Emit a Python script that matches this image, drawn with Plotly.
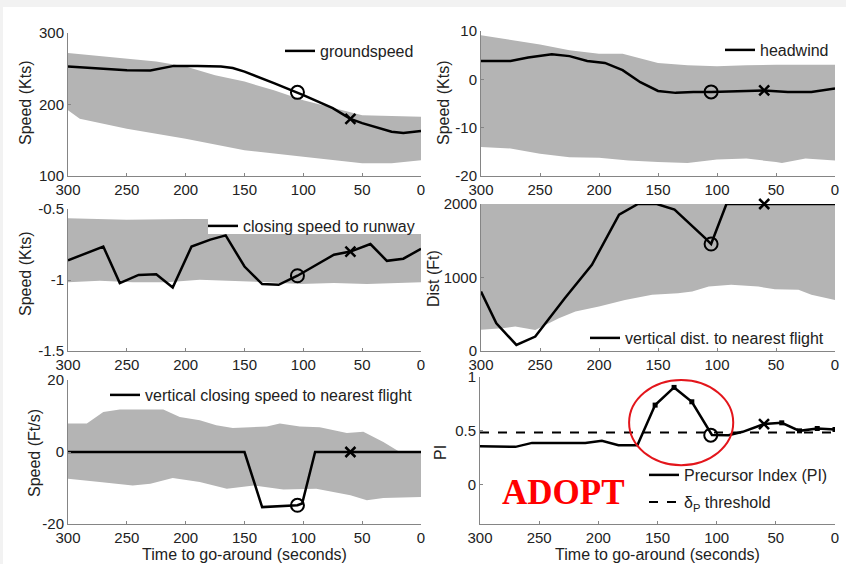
import plotly.graph_objects as go

W, H = 846, 564

# ---------------- data ----------------
time_ticks = [300, 250, 200, 150, 100, 50, 0]
time_tick_labels = ["300", "250", "200", "150", "100", "50", "0"]

event_t = 105      # circle marker time
cross_t = 60       # cross marker time

# Panel 1: groundspeed
gs_t = [300, 275, 250, 230, 210, 190, 170, 160, 150, 125, 105, 100, 75, 60, 50, 25, 15, 0]
gs_v = [253, 251, 248, 247.5, 254, 254, 253, 251, 246, 230, 217, 213, 195, 180, 174, 162, 160, 163]
gs_up_t = [300, 275, 250, 225, 200, 175, 150, 125, 100, 75, 50, 25, 0]
gs_up = [272, 268, 264, 260, 253, 241, 232, 220, 206, 196, 185, 184, 183]
gs_lo_t = [300, 290, 250, 200, 150, 100, 75, 50, 25, 0]
gs_lo = [192, 180, 166, 152, 136, 127, 122, 118, 118, 122]
gs_circle, gs_cross = 217, 180
gs_yticks = [100, 200, 300]
gs_ylabels = ["100", "200", "300"]

# Panel 2: headwind
hw_t = [300, 275, 260, 240, 225, 210, 195, 180, 165, 150, 135, 120, 105, 80, 60, 40, 20, 0]
hw_v = [3.8, 3.8, 4.5, 5.2, 4.8, 3.8, 3.4, 1.9, -0.6, -2.4, -2.8, -2.6, -2.6, -2.4, -2.3, -2.6, -2.6, -1.9]
hw_up_t = [300, 275, 250, 225, 200, 180, 165, 150, 125, 100, 75, 50, 0]
hw_up = [9.1, 8.1, 7.2, 6.0, 5.3, 5.3, 4.3, 3.4, 2.9, 2.7, 2.9, 3.0, 3.0]
hw_lo_t = [300, 275, 250, 225, 200, 175, 150, 125, 100, 75, 50, 45, 25, 0]
hw_lo = [-14.0, -14.3, -15.4, -16.1, -16.2, -16.8, -17.1, -17.3, -16.6, -16.4, -17.1, -17.3, -16.4, -16.8]
hw_circle, hw_cross = -2.6, -2.3
hw_yticks = [-20, -10, 0, 10]
hw_ylabels = ["-20", "-10", "0", "10"]

# Panel 3: closing speed to runway
cs_t = [300, 270, 256, 240, 225, 211, 195, 179, 166, 150, 135, 121, 105, 74, 60, 43, 29, 15, 0]
cs_v = [-0.862, -0.764, -1.022, -0.964, -0.959, -1.053, -0.764, -0.716, -0.686, -0.905, -1.029,
        -1.034, -0.97, -0.822, -0.80, -0.747, -0.865, -0.85, -0.78]
cs_up_t = [300, 250, 200, 150, 100, 50, 0]
cs_up = [-0.565, -0.575, -0.57, -0.57, -0.57, -0.57, -0.57]
cs_lo_t = [300, 273, 245, 216, 188, 160, 131, 103, 74, 46, 0]
cs_lo = [-1.015, -1.006, -1.015, -1.015, -0.999, -1.006, -1.015, -1.029, -1.022, -1.029, -1.015]
cs_circle, cs_cross = -0.97, -0.80
cs_yticks = [-1.5, -1, -0.5]
cs_ylabels = ["-1.5", "-1", "-0.5"]

# Panel 4: vertical distance to nearest flight
vd_t = [300, 287, 270, 254, 229, 206, 183, 167, 151, 136, 110, 105, 92, 0]
vd_v = [809, 377, 82, 196, 718, 1173, 1855, 2000, 2000, 1923, 1536, 1455, 2000, 2000]
vd_up_t = [300, 0]
vd_up = [2000, 2000]
vd_lo_t = [300, 282, 271, 254, 234, 220, 200, 178, 155, 133, 121, 107, 88, 65, 51, 31, 20, 0]
vd_lo = [290, 309, 332, 286, 445, 536, 605, 695, 764, 786, 809, 877, 900, 877, 841, 832, 764, 695]
vd_circle, vd_cross = 1455, 2000
vd_yticks = [0, 1000, 2000]
vd_ylabels = ["0", "1000", "2000"]

# Panel 5: vertical closing speed to nearest flight
vc_t = [300, 150, 135, 105, 101, 90, 0]
vc_v = [0, 0, -15.3, -14.8, -14.3, 0, 0]
vc_up_t = [300, 284, 270, 256, 219, 205, 188, 174, 160, 131, 120, 103, 86, 63, 49, 32, 18, 0]
vc_up = [7.9, 7.9, 11.1, 11.8, 11.8, 9.7, 8.8, 7.4, 6.7, 7.1, 7.9, 7.1, 6.9, 5.3, 5.6, 2.8, 0.0, 0.0]
vc_lo_t = [300, 273, 245, 230, 211, 188, 165, 142, 117, 89, 60, 46, 32, 0]
vc_lo = [-7.4, -8.3, -9.3, -8.8, -7.2, -8.3, -10.2, -9.3, -10.4, -10.2, -12.0, -13.4, -12.8, -12.5]
vc_circle, vc_cross = -14.8, 0
vc_yticks = [-20, 0, 20]
vc_ylabels = ["-20", "0", "20"]

# Panel 6: precursor index
pi_t = [300, 270, 256, 234, 211, 197, 183, 167, 152, 136, 121, 104, 90, 78, 60, 45, 30, 15, 0]
pi_v = [0.355, 0.349, 0.386, 0.386, 0.386, 0.405, 0.364, 0.364, 0.738, 0.903, 0.769, 0.46,
        0.458, 0.489, 0.561, 0.573, 0.498, 0.52, 0.511]
pi_marker_idx = [8, 9, 10, 15, 16, 17, 18]
pi_threshold = 0.483
pi_circle, pi_cross = 0.458, 0.561
pi_yticks = [0, 0.5, 1]
pi_ylabels = ["0", "0.5", "1"]

# ---------------- layout helpers ----------------
BAND = "#b4b4b4"
AXC = "#858585"
TXT = "#222222"
FONT = "Liberation Sans, Arial, sans-serif"
LW = 2.5

def xd(a, b):
    return [a / W, b / W]

def yd(top, bottom):
    return [1 - bottom / H, 1 - top / H]

panels = [
    # (xdomain px, ydomain px, yrange, yticks, ylabels, ytitle, title centre px)
    ((68, 421), (33, 176), [100, 300], gs_yticks, gs_ylabels, "Speed (Kts)", (25, 103)),
    ((481, 835), (31, 176), [-20, 10], hw_yticks, hw_ylabels, "Speed (Kts)", (443, 103)),
    ((68, 421), (209, 351), [-1.5, -0.5], cs_yticks, cs_ylabels, "Speed (Kts)", (25, 274)),
    ((481, 835), (204, 351), [0, 2000], vd_yticks, vd_ylabels, "Dist (Ft)", (433, 279)),
    ((68, 421), (380, 524), [-20, 20], vc_yticks, vc_ylabels, "Speed (Ft/s)", (34, 453)),
    ((480, 835), (377, 524), [-0.37, 1.0], pi_yticks, pi_ylabels, "PI", (440, 453)),
]

fig = go.Figure()
layout = {}
for i, (xpx, ypx, yr, yt, yl, ytitle, tpos) in enumerate(panels, start=1):
    sx = "" if i == 1 else str(i)
    xa = dict(
        domain=xd(*xpx), anchor="y" + sx, range=[300, 0], automargin=False,
        tickvals=time_ticks, ticktext=time_tick_labels,
        ticks="inside", ticklen=3, tickcolor=AXC,
        showline=True, linecolor=AXC, linewidth=1,
        showgrid=False, zeroline=False,
        tickfont=dict(size=15, color=TXT, family=FONT),
    )
    if i in (5, 6):
        xa["title"] = dict(text="Time to go-around (seconds)",
                           font=dict(size=16, color=TXT, family=FONT), standoff=0)
    ya = dict(
        domain=yd(*ypx), anchor="x" + sx, range=yr, automargin=False,
        tickvals=yt, ticktext=yl,
        ticks="inside", ticklen=3, tickcolor=AXC,
        showline=True, linecolor=AXC, linewidth=1,
        showgrid=False, zeroline=False,
        tickfont=dict(size=15, color=TXT, family=FONT),
    )
    layout["xaxis" + sx] = xa
    layout["yaxis" + sx] = ya
    fig.add_annotation(text=ytitle, xref="paper", yref="paper",
                       x=tpos[0] / W, y=1 - tpos[1] / H, xanchor="center", yanchor="middle",
                       textangle=-90, showarrow=False,
                       font=dict(size=16, color=TXT, family=FONT))


def add_panel(i, band_up_t, band_up, band_lo_t, band_lo, lt, lv, name, legend, circ, cross):
    sx = "" if i == 1 else str(i)
    xr, yr = "x" + sx, "y" + sx
    fig.add_trace(go.Scatter(
        x=list(band_up_t) + list(band_lo_t)[::-1],
        y=list(band_up) + list(band_lo)[::-1],
        fill="toself", fillcolor=BAND, line=dict(width=0), mode="lines",
        hoverinfo="skip", showlegend=False, xaxis=xr, yaxis=yr))
    fig.add_trace(go.Scatter(
        x=lt, y=lv, mode="lines", name=name, legend=legend,
        line=dict(color="black", width=LW), cliponaxis=False,
        xaxis=xr, yaxis=yr))
    fig.add_trace(go.Scatter(
        x=[event_t], y=[circ], mode="markers", showlegend=False, cliponaxis=False,
        marker=dict(symbol="circle-open", size=13, color="black", line=dict(width=2)),
        xaxis=xr, yaxis=yr))
    fig.add_trace(go.Scatter(
        x=[cross_t], y=[cross], mode="markers", showlegend=False, cliponaxis=False,
        marker=dict(symbol="x-thin-open", size=10, color="black", line=dict(width=2.5, color="black")),
        xaxis=xr, yaxis=yr))


add_panel(1, gs_up_t, gs_up, gs_lo_t, gs_lo, gs_t, gs_v, "groundspeed", "legend", gs_circle, gs_cross)
add_panel(2, hw_up_t, hw_up, hw_lo_t, hw_lo, hw_t, hw_v, "headwind", "legend2", hw_circle, hw_cross)
add_panel(3, cs_up_t, cs_up, cs_lo_t, cs_lo, cs_t, cs_v, "closing speed to runway", "legend3", cs_circle, cs_cross)
add_panel(4, vd_up_t, vd_up, vd_lo_t, vd_lo, vd_t, vd_v, "vertical dist. to nearest flight", "legend4", vd_circle, vd_cross)
add_panel(5, vc_up_t, vc_up, vc_lo_t, vc_lo, vc_t, vc_v, "vertical closing speed to nearest flight", "legend5", vc_circle, vc_cross)

# Panel 6
fig.add_trace(go.Scatter(
    x=pi_t, y=pi_v, mode="lines", name="Precursor Index (PI)", legend="legend6",
    line=dict(color="black", width=LW), xaxis="x6", yaxis="y6"))
fig.add_trace(go.Scatter(
    x=[pi_t[k] for k in pi_marker_idx], y=[pi_v[k] for k in pi_marker_idx],
    mode="markers", showlegend=False,
    marker=dict(symbol="square", size=5, color="black"), xaxis="x6", yaxis="y6"))
fig.add_trace(go.Scatter(
    x=[300, 0], y=[pi_threshold, pi_threshold], mode="lines",
    name="δ<sub>P</sub> threshold", legend="legend7",
    line=dict(color="black", width=2, dash="dash"), xaxis="x6", yaxis="y6"))
fig.add_trace(go.Scatter(
    x=[event_t], y=[pi_circle], mode="markers", showlegend=False,
    marker=dict(symbol="circle-open", size=13, color="black", line=dict(width=2)),
    xaxis="x6", yaxis="y6"))
fig.add_trace(go.Scatter(
    x=[cross_t], y=[pi_cross], mode="markers", showlegend=False,
    marker=dict(symbol="x-thin-open", size=10, color="black", line=dict(width=2.5, color="black")),
    xaxis="x6", yaxis="y6"))

# legends (x = where the legend text starts, minus the symbol width)
def leg(text_x, ycenter):
    return dict(x=(text_x - 38) / W, y=1 - ycenter / H, xanchor="left", yanchor="middle",
                bgcolor="rgba(255,255,255,0)", borderwidth=0, itemwidth=30,
                font=dict(size=16, color=TXT, family=FONT),
                itemclick=False, itemdoubleclick=False)

layout["legend"] = leg(318, 51)
layout["legend2"] = leg(758, 50)
layout["legend3"] = leg(241, 226)
layout["legend4"] = leg(623, 338)
layout["legend5"] = leg(143, 395)
layout["legend6"] = leg(682, 475)
layout["legend7"] = leg(682, 502)

fig.update_layout(
    width=W, height=H,
    margin=dict(l=0, r=0, t=0, b=0, autoexpand=False),
    paper_bgcolor="#f2f2f2", plot_bgcolor="white",
    font=dict(family=FONT, color=TXT),
    showlegend=True,
    **layout,
)

# white page area inside light border
fig.add_shape(type="rect", xref="paper", yref="paper",
              x0=3 / W, x1=1, y0=0, y1=1 - 7 / H,
              fillcolor="white", line=dict(width=0), layer="below")

# opaque white box behind the panel-3 legend (it hides the band, as in the original)
fig.add_shape(type="rect", xref="paper", yref="paper",
              x0=208 / W, x1=421 / W, y0=1 - 234 / H, y1=1 - 218 / H,
              fillcolor="white", line=dict(width=0), layer="above")

# red highlight ellipse in the PI panel
fig.add_shape(type="circle", xref="x6", yref="y6",
              x0=174, x1=86, y0=0.178, y1=0.972,
              line=dict(color="#e3151b", width=2))

fig.add_annotation(text="<b>ADOPT</b>", xref="paper", yref="paper",
                   x=563.5 / W, y=1 - 492.5 / H, xanchor="center", yanchor="middle",
                   showarrow=False,
                   font=dict(family="Liberation Serif, Times New Roman, serif", size=35, color="#ff0000"))

fig.write_html("out.html", config={"displayModeBar": False},
               post_script="document.body.style.margin='0px';document.body.style.overflow='hidden';")
